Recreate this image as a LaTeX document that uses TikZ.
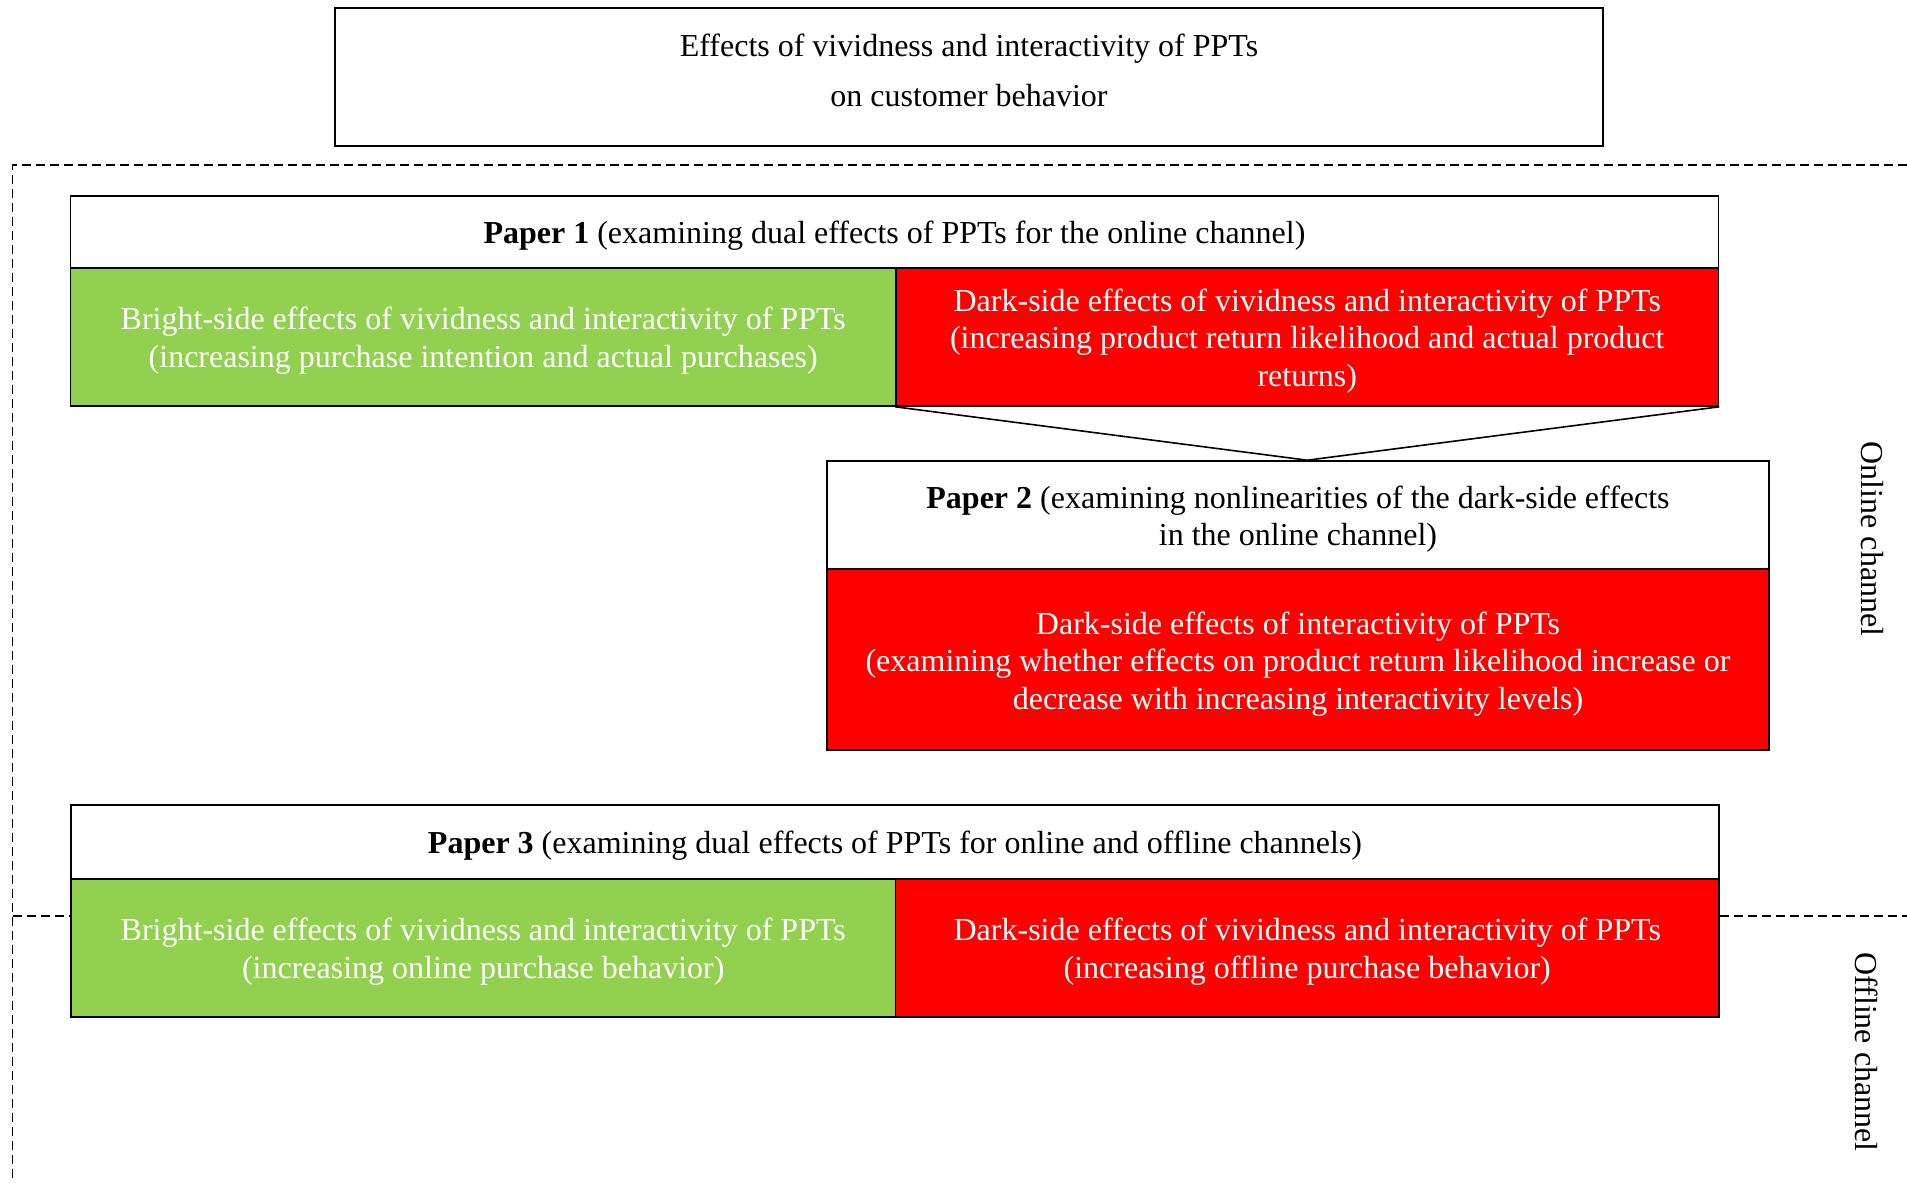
\documentclass[tikz,border=0pt]{standalone}
\usepackage{fontspec}
\setmainfont{Liberation Serif}
\definecolor{brightgreen}{HTML}{92D050}
\definecolor{darkred}{HTML}{FF0000}
\begin{document}
\begin{tikzpicture}[x=1pt,y=-1pt,
  base/.style={draw=black, line width=1.6pt, inner sep=0pt},
  whitebox/.style={base, fill=white},
  greenbox/.style={base, fill=brightgreen},
  redbox/.style={base, fill=darkred},
  boxtext/.style={inner sep=0pt, align=center, font=\fontsize{32}{37.7}\selectfont},
  darktext/.style={boxtext, text=black},
  lighttext/.style={boxtext, text=white},
  plaintext/.style={inner sep=0pt, align=center, font=\fontsize{32}{50}\selectfont},
  sidetext/.style={inner sep=0pt, rotate=-90, font=\fontsize{32}{37.7}\selectfont},
  dashline/.style={line width=1.5pt, dash pattern=on 9pt off 5pt}
]
\useasboundingbox (0,0) rectangle (1907,1183);

% outer dashed frame
\coordinate (frameTR) at (1907,165);
\coordinate (frameTL) at (12.5,165);
\coordinate (frameBL) at (12.5,1183);
\draw[dashline] (frameTR) -- (frameTL) -- (frameBL);

% top box
\node[whitebox, minimum width=1268pt, minimum height=138pt] (top) at (969,77) {};
\node[plaintext] (toptitle) at (969,70.5) {Effects of vividness and interactivity of PPTs\\on customer behavior};

% Paper 1
\node[whitebox, minimum width=1648pt, minimum height=72pt] (p1h) at (894.5,232) {};
\node[darktext] (p1ht) at (894.5,236)
  {\textbf{Paper 1} (examining dual effects of PPTs for the online channel)};
\node[greenbox, minimum width=825.5pt, minimum height=138pt] (p1g) at (483.25,337) {};
\node[lighttext] (p1gt) at (483.25,341)
  {Bright-side effects of vividness and interactivity of PPTs\\(increasing purchase intention and actual purchases)};
\node[redbox, minimum width=822.5pt, minimum height=138pt] (p1r) at (1307.25,337) {};
\node[lighttext] (p1rt) at (1307.25,341)
  {Dark-side effects of vividness and interactivity of PPTs\\(increasing product return likelihood and actual product\\returns)};

% Paper 2
\node[whitebox, minimum width=942pt, minimum height=108pt] (p2h) at (1298,515) {};
\node[darktext] (p2ht) at (1298,519)
  {\textbf{Paper 2} (examining nonlinearities of the dark-side effects\\in the online channel)};
\node[redbox, minimum width=942pt, minimum height=181pt] (p2r) at (1298,659.5) {};
\node[lighttext] (p2rt) at (1298,664)
  {Dark-side effects of interactivity of PPTs\\(examining whether effects on product return likelihood increase or\\decrease with increasing interactivity levels)};

% funnel from Paper 1 to Paper 2
\coordinate (apex) at (p1r.south |- p2h.north);
\draw[line width=1.6pt] (p1r.south west) -- (apex) -- (p1r.south east);

% Paper 3
\coordinate (midL) at (12.5,916);
\coordinate (midR) at (1907,916);
\node[whitebox, minimum width=1648pt, minimum height=74pt] (p3h) at (895,842) {};
\node[darktext] (p3ht) at (895,846)
  {\textbf{Paper 3} (examining dual effects of PPTs for online and offline channels)};
\node[greenbox, minimum width=824.5pt, minimum height=138pt] (p3g) at (483.25,948) {};
\node[lighttext] (p3gt) at (483.25,952)
  {Bright-side effects of vividness and interactivity of PPTs\\(increasing online purchase behavior)};
\node[redbox, minimum width=823.5pt, minimum height=138pt] (p3r) at (1307.25,948) {};
\node[lighttext] (p3rt) at (1307.25,952)
  {Dark-side effects of vividness and interactivity of PPTs\\(increasing offline purchase behavior)};
\draw[dashline] (midL) -- (midL -| p3g.west);
\draw[dashline] (midR -| p3r.east) -- (midR);

% side labels
\node[sidetext] (online) at (1872,539) {Online channel};
\node[sidetext] (offline) at (1867,1052) {Offline channel};
\end{tikzpicture}
\end{document}
